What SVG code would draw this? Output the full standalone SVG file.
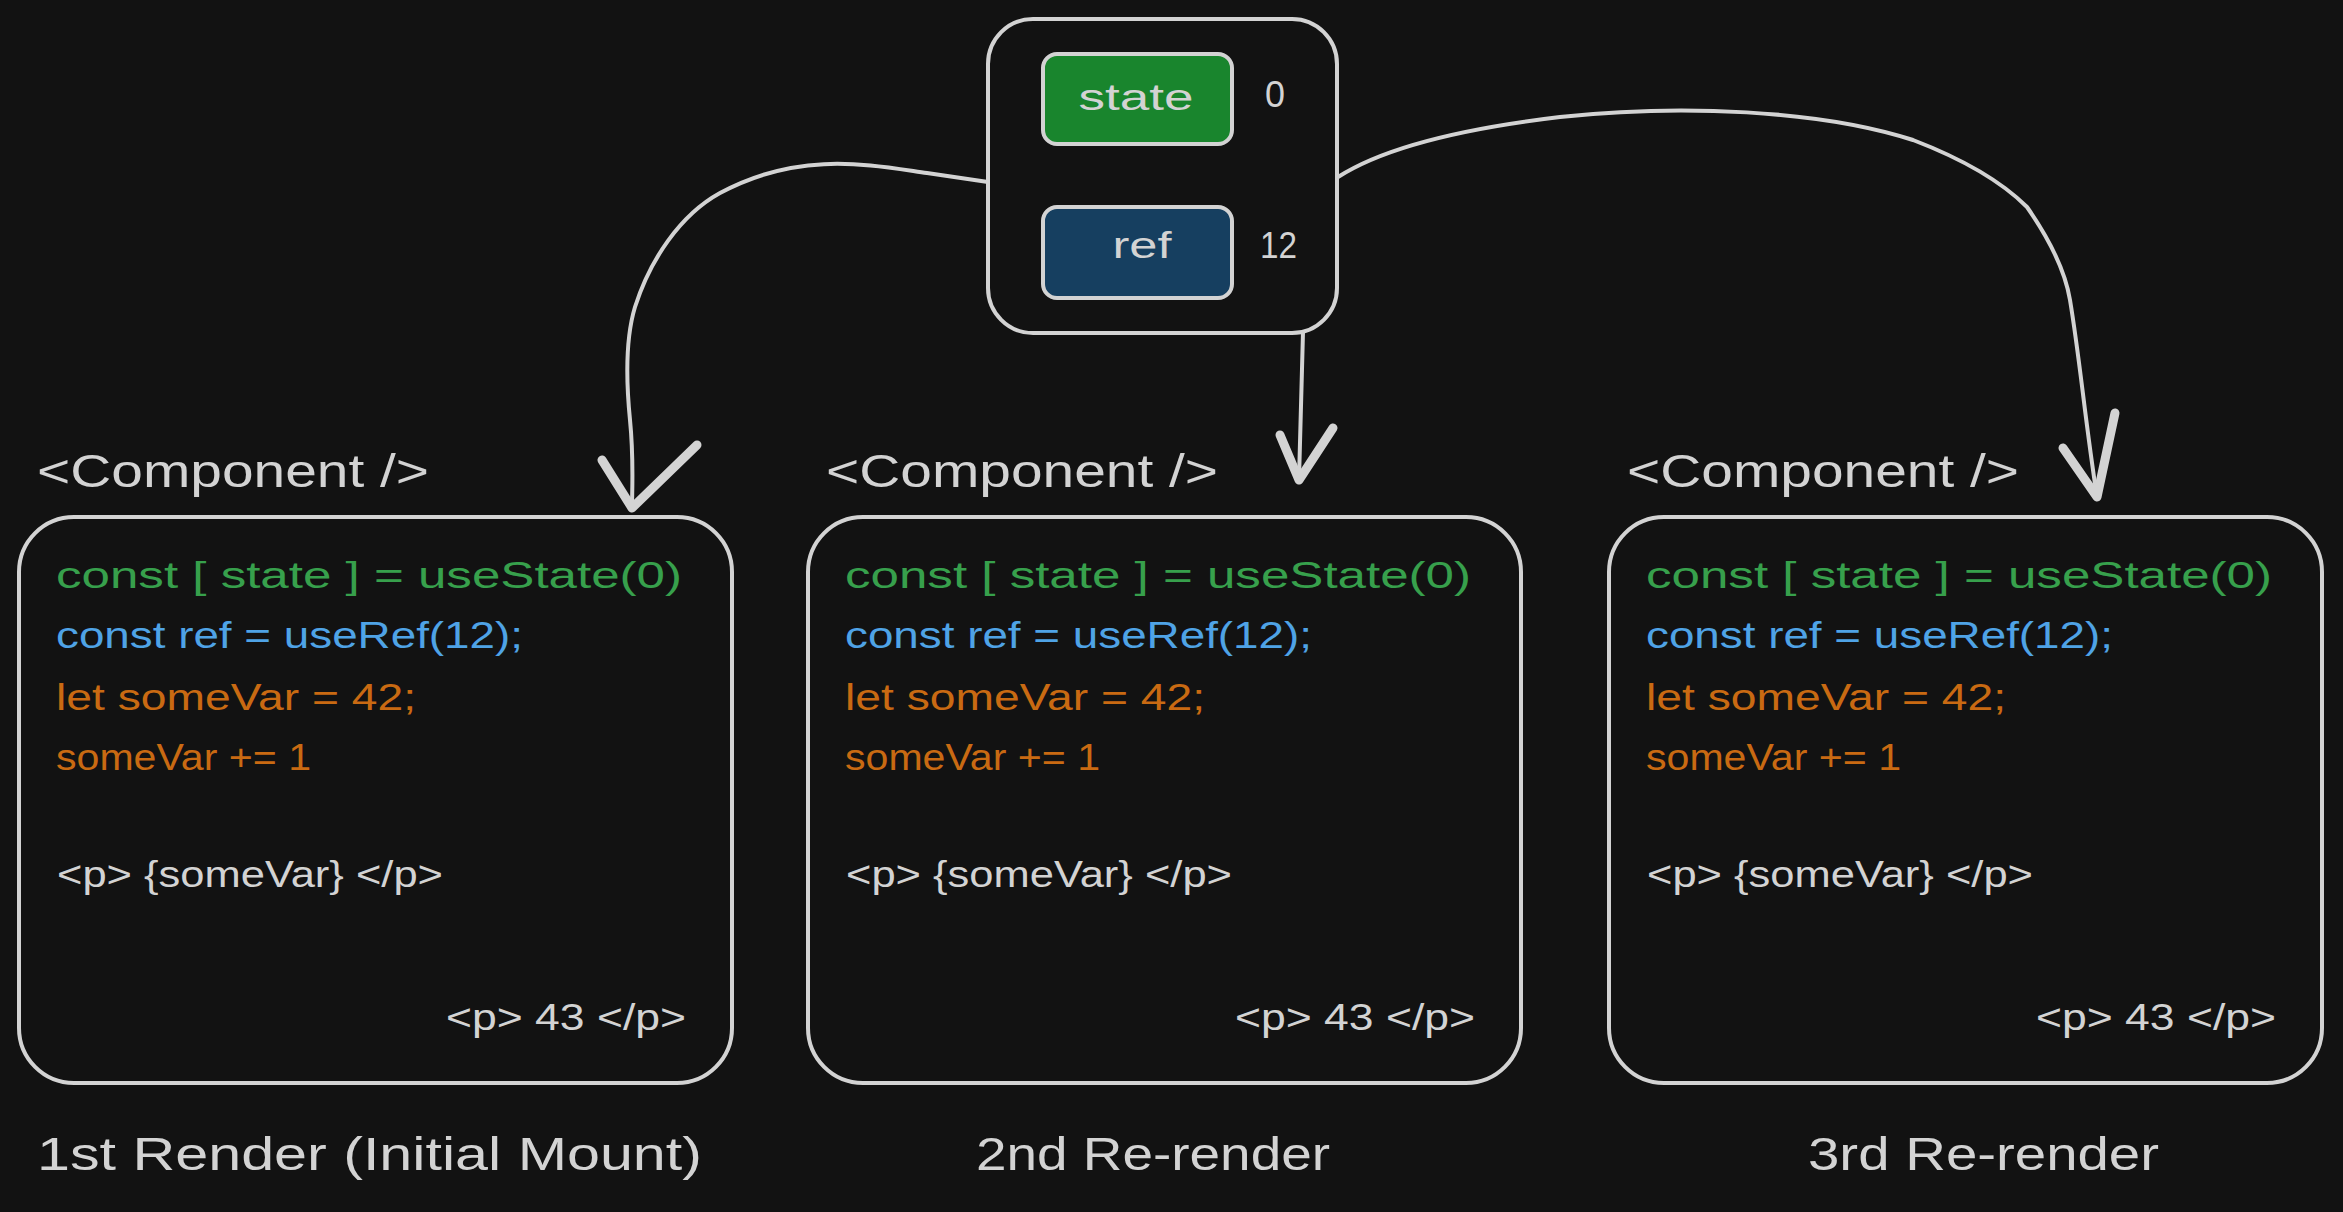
<svg xmlns="http://www.w3.org/2000/svg" width="2343" height="1212" viewBox="0 0 2343 1212">
<style>
.frame{fill:#121212;stroke:#d3d3d3;stroke-width:4}
.t{font-family:"Liberation Sans","Open Sans",sans-serif;fill:#d3d3d3}
.code{font-size:36px}
.hdr{font-size:46px}
.g{fill:#37a04c}
.b{fill:#4fa3e6}
.o{fill:#c96a12}
.line{fill:none;stroke:#d3d3d3;stroke-width:4;stroke-linecap:round;stroke-linejoin:round}
.head{fill:none;stroke:#d3d3d3;stroke-width:9;stroke-linecap:round;stroke-linejoin:round}
</style>
<rect width="2343" height="1212" fill="#121212"/>
<g id="connectors">
<path class="line" d="M988,182 L927,173 C870,165 800,150 720,193 C680,215 650,260 635,307 C625,340 626,380 630,420 C634,460 632,490 632,508"/>
<path class="head" d="M602,460 L632,508 L697,445"/>
<path class="line" d="M1303,332 C1302,380 1300,430 1299,480"/>
<path class="head" d="M1280,435 L1299,480 L1333,428"/>
<path class="line" d="M1338,177 C1380,150 1450,130 1560,117 C1680,104 1820,110 1913,140 C1960,158 2000,180 2027,207 C2050,240 2065,270 2070,300 C2080,360 2085,420 2097,497"/>
<path class="head" d="M2063,448 L2097,497 L2115,413"/>
</g>
<g id="store">
<rect class="frame" x="988" y="19" width="349" height="314" rx="45"/>
<g id="state">
<rect x="1043" y="54" width="189" height="90" rx="14" fill="#19852d" stroke="#d3d3d3" stroke-width="4"/>
<text class="t code" x="1136" y="110" text-anchor="middle" textLength="115" lengthAdjust="spacingAndGlyphs">state</text>
</g>
<text class="t code" x="1265" y="107" textLength="20" lengthAdjust="spacingAndGlyphs">0</text>
<g id="ref">
<rect x="1043" y="207" width="189" height="91" rx="14" fill="#163f60" stroke="#d3d3d3" stroke-width="4"/>
<text class="t code" x="1142" y="258" text-anchor="middle" textLength="59" lengthAdjust="spacingAndGlyphs">ref</text>
</g>
<text class="t code" x="1260" y="258" textLength="37" lengthAdjust="spacingAndGlyphs">12</text>
</g>
<g id="render1">
<text class="t hdr" x="37" y="487" textLength="392" lengthAdjust="spacingAndGlyphs">&lt;Component /&gt;</text>
<rect class="frame" x="19" y="517" width="713" height="566" rx="55"/>
<text class="t code g" x="56" y="588" textLength="626" lengthAdjust="spacingAndGlyphs">const [ state ] = useState(0)</text>
<text class="t code b" x="56" y="648" textLength="467" lengthAdjust="spacingAndGlyphs">const ref = useRef(12);</text>
<text class="t code o" x="56" y="710" textLength="360" lengthAdjust="spacingAndGlyphs">let someVar = 42;</text>
<text class="t code o" x="56" y="770" textLength="255" lengthAdjust="spacingAndGlyphs">someVar += 1</text>
<text class="t code" x="57" y="887" textLength="386" lengthAdjust="spacingAndGlyphs">&lt;p&gt; {someVar} &lt;/p&gt;</text>
<text class="t code" x="446" y="1030" textLength="240" lengthAdjust="spacingAndGlyphs">&lt;p&gt; 43 &lt;/p&gt;</text>
<text class="t hdr" x="37" y="1170" textLength="665" lengthAdjust="spacingAndGlyphs">1st Render (Initial Mount)</text>
</g>
<g id="render2">
<text class="t hdr" x="826" y="487" textLength="392" lengthAdjust="spacingAndGlyphs">&lt;Component /&gt;</text>
<rect class="frame" x="808" y="517" width="713" height="566" rx="55"/>
<text class="t code g" x="845" y="588" textLength="626" lengthAdjust="spacingAndGlyphs">const [ state ] = useState(0)</text>
<text class="t code b" x="845" y="648" textLength="467" lengthAdjust="spacingAndGlyphs">const ref = useRef(12);</text>
<text class="t code o" x="845" y="710" textLength="360" lengthAdjust="spacingAndGlyphs">let someVar = 42;</text>
<text class="t code o" x="845" y="770" textLength="255" lengthAdjust="spacingAndGlyphs">someVar += 1</text>
<text class="t code" x="846" y="887" textLength="386" lengthAdjust="spacingAndGlyphs">&lt;p&gt; {someVar} &lt;/p&gt;</text>
<text class="t code" x="1235" y="1030" textLength="240" lengthAdjust="spacingAndGlyphs">&lt;p&gt; 43 &lt;/p&gt;</text>
<text class="t hdr" x="976" y="1170" textLength="354" lengthAdjust="spacingAndGlyphs">2nd Re-render</text>
</g>
<g id="render3">
<text class="t hdr" x="1627" y="487" textLength="392" lengthAdjust="spacingAndGlyphs">&lt;Component /&gt;</text>
<rect class="frame" x="1609" y="517" width="713" height="566" rx="55"/>
<text class="t code g" x="1646" y="588" textLength="626" lengthAdjust="spacingAndGlyphs">const [ state ] = useState(0)</text>
<text class="t code b" x="1646" y="648" textLength="467" lengthAdjust="spacingAndGlyphs">const ref = useRef(12);</text>
<text class="t code o" x="1646" y="710" textLength="360" lengthAdjust="spacingAndGlyphs">let someVar = 42;</text>
<text class="t code o" x="1646" y="770" textLength="255" lengthAdjust="spacingAndGlyphs">someVar += 1</text>
<text class="t code" x="1647" y="887" textLength="386" lengthAdjust="spacingAndGlyphs">&lt;p&gt; {someVar} &lt;/p&gt;</text>
<text class="t code" x="2036" y="1030" textLength="240" lengthAdjust="spacingAndGlyphs">&lt;p&gt; 43 &lt;/p&gt;</text>
<text class="t hdr" x="1808" y="1170" textLength="351" lengthAdjust="spacingAndGlyphs">3rd Re-render</text>
</g>
</svg>
